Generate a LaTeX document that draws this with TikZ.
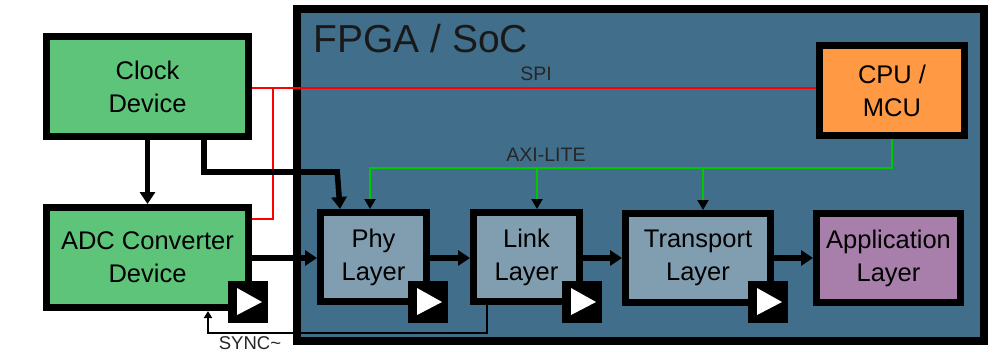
\documentclass[tikz,border=0pt]{standalone}
\usepackage{fontspec}
\setmainfont{Liberation Sans}
\usetikzlibrary{arrows.meta}
\definecolor{devgreen}{RGB}{94,196,122}
\definecolor{socblue}{RGB}{65,110,138}
\definecolor{layerblue}{RGB}{128,158,176}
\definecolor{cpuorange}{RGB}{255,153,68}
\definecolor{apppurple}{RGB}{168,126,170}
\definecolor{spired}{RGB}{255,0,0}
\definecolor{axigreen}{RGB}{0,200,0}
\begin{document}
\begin{tikzpicture}[x=1pt, y=-1pt,
    block/.style={draw=black, line width=7pt, align=center, inner sep=0pt,
        font=\fontsize{25.5}{33}\selectfont},
    device/.style={block, fill=devgreen, minimum width=202pt, minimum height=100pt},
    layer/.style={block, fill=layerblue, minimum width=106pt, minimum height=89pt},
    clkbox/.style={fill=black, minimum width=40pt, minimum height=42pt, inner sep=0pt},
    bus/.style={line width=5.5pt, -{Triangle[width=15pt,length=12pt]}},
    spi/.style={spired, line width=2pt},
    axi/.style={axigreen, line width=2pt, -{Triangle[width=11pt,length=10pt,color=black]}},
    small/.style={font=\fontsize{19.5}{22}\selectfont, text=black!85}]
    \useasboundingbox (0,0) rectangle (995,354);
    % FPGA box
    \node[draw=black, line width=8pt, fill=socblue, minimum width=687pt, minimum height=332pt,
        inner sep=0pt] (fpga) at (640.5,175) {};
    \node[anchor=base west, font=\fontsize{39}{40}\selectfont, text=black!90] (fpgatitle) at (310,52) {FPGA / SoC};
    % external devices
    \node[device] (clock) at (147.5,86.5) {Clock\\Device};
    \node[device] (adc) at (147.5,257.5) {ADC Converter\\Device};
    % inside the FPGA
    \node[block, fill=cpuorange, minimum width=145pt, minimum height=90pt] (cpu) at (892,90.5) {CPU /\\MCU};
    \node[layer] (phy) at (373.5,257) {Phy\\Layer};
    \node[layer] (link) at (526.5,257) {Link\\Layer};
    \node[layer, minimum width=145pt] (transport) at (698,258) {Transport\\Layer};
    \node[block, fill=apppurple, minimum width=144pt, minimum height=89pt] (app) at (888.5,258) {Application\\Layer};
    \foreach \n/\x in {adc/248,phy/428,link/582,transport/768} {
        \node[clkbox] (\n clk) at (\x,302) {};
        \fill[white] (\x,302) +(-11,-14) -- +(-11,13) -- +(14,0) -- cycle;
    }
    % SPI
    \coordinate (spitap) at (273,88);
    \coordinate (spiadc) at (273,219);
    \draw[spi] (clock.east |- spitap) -- (cpu.west |- spitap);
    \draw[spi] (spitap) -- (spiadc) -- (spiadc -| adc.east);
    \node[small] (spilabel) at (536,74) {SPI};
    % AXI-LITE
    \coordinate (axirow) at (370,168);
    \draw[axi] (cpu.south) |- (axirow) -- (axirow |- phy.north);
    \draw[axi] (537,168) -- (537,209);
    \draw[axi] (703,168) -- (703,210);
    \node[small] (axilabel) at (546,155) {AXI-LITE};
    % clock and data
    \coordinate (clkdrop) at (204,172);
    \coordinate (clkturn) at (340,172);
    \draw[bus] (clock.south) -- (clock.south |- adc.north);
    \draw[line width=5.5pt] (clkdrop |- clock.south) -- (clkdrop) -- (clkturn);
    \draw[bus] ([xshift=-2.75pt]clkturn) -- (clkturn |- phy.north);
    \draw[bus] (adc.east |- 0,258) -- (phy.west |- 0,258);
    \draw[bus] (phy.east |- 0,258) -- (link.west |- 0,258);
    \draw[bus] (link.east |- 0,258) -- (transport.west |- 0,258);
    \draw[bus] (transport.east |- 0,258) -- (app.west |- 0,258);
    % SYNC
    \coordinate (syncrow) at (487,333);
    \draw[line width=2pt, -{Triangle[width=8pt,length=7pt]}] (syncrow |- link.south) -- (syncrow) -- (208,333) -- (208,311);
    \node[small, anchor=base, inner sep=0pt, font=\fontsize{18.5}{20}\selectfont] (synclabel) at (250,349) {SYNC\textasciitilde};
\end{tikzpicture}
\end{document}
